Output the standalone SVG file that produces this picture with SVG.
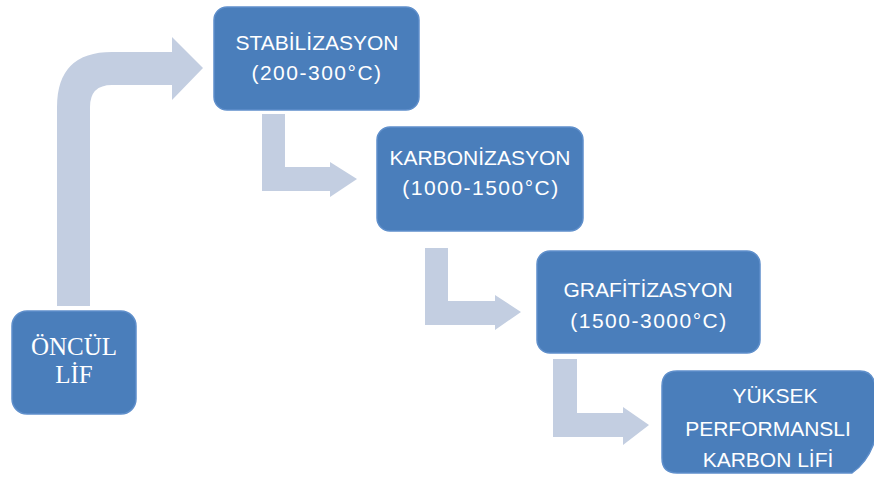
<svg xmlns="http://www.w3.org/2000/svg" width="874" height="477" viewBox="0 0 874 477">
<style>
.box{fill:#4a7ebb;stroke:#5f8fcb;stroke-width:1.5}
.arr{fill:#c3cee1}
.t{font-family:"Liberation Sans",Arial,sans-serif;font-size:21px;fill:#ffffff;text-anchor:middle}
.p{letter-spacing:1.5px}
.s{font-family:"Liberation Serif","Times New Roman",serif;font-size:25px;fill:#ffffff;text-anchor:middle}
</style>
<rect width="874" height="477" fill="#ffffff"/>
<g id="connectors">
<path class="arr" d="M57,306 L57,107 Q57,52 112,52 L172,52 L172,37 L203,68 L172,100 L172,85 L112,85 Q90,85 90,107 L90,306 Z"/>
<path class="arr" d="M262,114 H285 V167 H330 V162 L357,179 L330,197 V191 H262 Z"/>
<path class="arr" d="M425,248 H448 V301 H495 V295 L521,312 L495,330 V325 H425 Z"/>
<path class="arr" d="M553,359 H577 V413 H623 V407 L649,425 L623,445 V437 H553 Z"/>
</g>
<g id="oncul">
<rect class="box" x="12" y="311" width="124" height="103" rx="15"/>
<text class="s" x="74" y="355">ÖNCÜL</text>
<text class="s" x="74" y="383">LİF</text>
</g>
<g id="stabilizasyon">
<rect class="box" x="214" y="7" width="205" height="103" rx="13"/>
<text class="t" x="317" y="50">STABİLİZASYON</text>
<text class="t p" x="317" y="80">(200-300°C)</text>
</g>
<g id="karbonizasyon">
<rect class="box" x="377" y="127" width="206" height="104" rx="13"/>
<text class="t" x="480" y="165">KARBONİZASYON</text>
<text class="t p" x="481" y="195">(1000-1500°C)</text>
</g>
<g id="grafitizasyon">
<rect class="box" x="537" y="251" width="223" height="102" rx="13"/>
<text class="t" x="648" y="297">GRAFİTİZASYON</text>
<text class="t p" x="649" y="328">(1500-3000°C)</text>
</g>
<g id="yuksek">
<path class="box" d="M677,371 H860 Q872,371 875,384 L875,440 Q868,462 852,473 H677 Q662,473 662,458 V386 Q662,371 677,371 Z"/>
<text class="t" x="775" y="403">YÜKSEK</text>
<text class="t" x="768" y="436">PERFORMANSLI</text>
<text class="t" x="768" y="467">KARBON LİFİ</text>
</g>
</svg>
